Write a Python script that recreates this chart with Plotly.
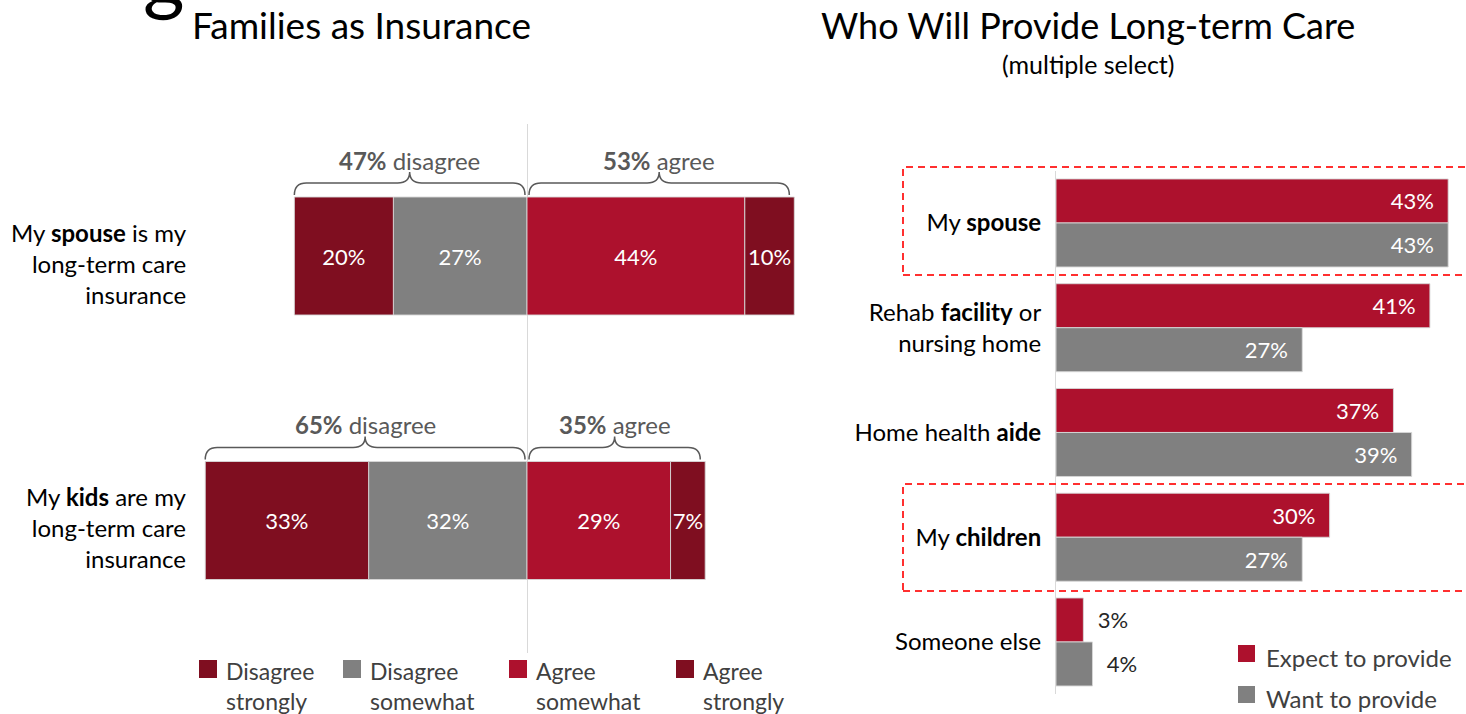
import plotly.graph_objects as go

# ---------------- data ----------------
statements = [
    "My <b>spouse</b> is my<br>long-term care<br>insurance",
    "My <b>kids</b> are my<br>long-term care<br>insurance",
]
disagree_strongly = [20, 33]
disagree_somewhat = [27, 32]
agree_somewhat = [44, 29]
agree_strongly = [10, 7]
disagree_total = [47, 65]
agree_total = [53, 35]

providers = [
    "My <b>spouse</b>",
    "Rehab <b>facility</b> or<br>nursing home",
    "Home health <b>aide</b>",
    "My <b>children</b>",
    "Someone else",
]
expect_to_provide = [43, 41, 37, 30, 3]
want_to_provide = [43, 27, 39, 27, 4]

left_legend = ["Disagree<br>strongly", "Disagree<br>somewhat", "Agree<br>somewhat", "Agree<br>strongly"]
right_legend = ["Expect to provide", "Want to provide"]

# ---------------- styling ----------------
FONT = "Lato"
DARK_RED = "#7F0E20"
RED = "#AD112D"
GREY = "#808080"
TXT = "#404040"
BRACE = "#595959"
LABEL_SIZE = 24
VALUE_SIZE = 22

W, H = 1466, 714


def fx(px):
    return px / W


def fy(py):
    return 1 - py / H


# left panel geometry (pixels)
L_ZERO, L_SCALE = 527, 4.95
L_X0, L_X1 = 200, 800
L_TOP, L_PITCH = 123.75, 264.5
L_BAR = 118

# right panel geometry (pixels)
R_ZERO, R_SCALE = 1056, 9.12
R_TOP, R_PITCH = 170.6, 104.75
R_BAR = 44


def lx(v):
    return L_ZERO + v * L_SCALE


def ly(i):
    return L_TOP + (i + 0.5) * L_PITCH


fig = go.Figure()

lw = L_BAR / L_PITCH
bar_line = dict(width=1, color="rgba(215,215,215,0.9)")


def pct(vals):
    return [f"{v}%" for v in vals]


left_series = [
    ("Disagree somewhat", [-v for v in disagree_somewhat], [0] * 2, GREY, disagree_somewhat),
    ("Disagree strongly", [-v for v in disagree_strongly], [-v for v in disagree_somewhat], DARK_RED, disagree_strongly),
    ("Agree somewhat", agree_somewhat, [0] * 2, RED, agree_somewhat),
    ("Agree strongly", agree_strongly, agree_somewhat, DARK_RED, agree_strongly),
]
for name, xs, base, col, lab in left_series:
    fig.add_trace(go.Bar(
        name=name, orientation="h", x=xs, y=statements, base=base,
        width=lw, offset=-lw / 2,
        marker=dict(color=col, line=bar_line),
        text=pct(lab), textposition="inside", insidetextanchor="middle",
        constraintext="none", textangle=0,
        textfont=dict(family=FONT, size=VALUE_SIZE, color="white"),
        xaxis="x", yaxis="y", showlegend=False, hoverinfo="skip",
    ))

rw = R_BAR / R_PITCH
nb = "\u00a0"
inside_pos = ["inside"] * 4 + ["outside"]
for name, vals, off, col in [
    ("Expect to provide", expect_to_provide, -rw, RED),
    ("Want to provide", want_to_provide, 0, GREY),
]:
    labels = [f"{v}%{nb * 2}" if p == "inside" else f"{nb * 2}{v}%" for v, p in zip(vals, inside_pos)]
    fig.add_trace(go.Bar(
        name=name, orientation="h", x=vals, y=providers,
        width=rw, offset=off,
        marker=dict(color=col, line=bar_line),
        text=labels, textposition=inside_pos, insidetextanchor="end",
        constraintext="none", textangle=0,
        textfont=dict(family=FONT, size=VALUE_SIZE, color=["white"] * 4 + ["#262626"]),
        xaxis="x2", yaxis="y2", showlegend=False, hoverinfo="skip",
    ))

shapes = []
annotations = []


# curly braces with totals above the diverging bars
def brace(x0, x1, y_end, y_mid, y_tip):
    xc = (x0 + x1) / 2
    r = 12
    pts = (
        f"M {fx(x0)},{fy(y_end)} Q {fx(x0)},{fy(y_mid)} {fx(x0 + r)},{fy(y_mid)} "
        f"L {fx(xc - r)},{fy(y_mid)} Q {fx(xc)},{fy(y_mid)} {fx(xc)},{fy(y_tip)} "
        f"Q {fx(xc)},{fy(y_mid)} {fx(xc + r)},{fy(y_mid)} "
        f"L {fx(x1 - r)},{fy(y_mid)} Q {fx(x1)},{fy(y_mid)} {fx(x1)},{fy(y_end)}"
    )
    return dict(type="path", xref="paper", yref="paper", path=pts,
                line=dict(color=BRACE, width=1.5))


for i, stmt in enumerate(statements):
    top = ly(i) - L_BAR / 2
    for x0, x1, txt in [
        (lx(-disagree_total[i]), lx(0) - 2, f"<b>{disagree_total[i]}%</b> disagree"),
        (lx(0) + 2, lx(agree_total[i]), f"<b>{agree_total[i]}%</b> agree"),
    ]:
        shapes.append(brace(x0, x1, top - 2, top - 14, top - 25))
        annotations.append(dict(
            x=fx((x0 + x1) / 2), y=fy(top - 37), xref="paper", yref="paper",
            text=txt, showarrow=False, xanchor="center", yanchor="middle",
            font=dict(family=FONT, size=LABEL_SIZE, color=BRACE),
        ))
    # statement label to the left of each bar
    annotations.append(dict(
        x=fx(189), y=fy(ly(i) + 7), xref="paper", yref="paper", text=stmt,
        showarrow=False, xanchor="right", yanchor="middle", align="right",
        font=dict(family=FONT, size=LABEL_SIZE, color="black"),
    ))

# dashed highlight boxes around spouse and children
for y0, y1 in [(167, 275), (484, 591)]:
    shapes.append(dict(type="rect", xref="paper", yref="paper",
                       x0=fx(903), x1=fx(1472), y0=fy(y1), y1=fy(y0),
                       line=dict(color="#FF3030", width=2, dash="7px,5px")))

# left legend
left_cols = [DARK_RED, GREY, RED, DARK_RED]
left_leg_x = [199, 343, 509, 676]
for lab, col, x in zip(left_legend, left_cols, left_leg_x):
    shapes.append(dict(type="rect", xref="paper", yref="paper",
                       x0=fx(x), x1=fx(x + 18), y0=fy(678), y1=fy(660),
                       fillcolor=col, line=dict(width=0)))
    annotations.append(dict(
        x=fx(x + 25), y=fy(655), xref="paper", yref="paper", text=lab,
        showarrow=False, xanchor="left", yanchor="top", align="left",
        font=dict(family=FONT, size=23, color=TXT),
    ))

# right legend
for lab, col, y in zip(right_legend, [RED, GREY], [645, 686]):
    shapes.append(dict(type="rect", xref="paper", yref="paper",
                       x0=fx(1238), x1=fx(1255), y0=fy(y + 17), y1=fy(y),
                       fillcolor=col, line=dict(width=0)))
    annotations.append(dict(
        x=fx(1264), y=fy(y + 12), xref="paper", yref="paper", text=lab,
        showarrow=False, xanchor="left", yanchor="middle",
        font=dict(family=FONT, size=LABEL_SIZE, color=TXT),
    ))

# titles
annotations += [
    dict(x=fx(361), y=fy(25), xref="paper", yref="paper", text="Families as Insurance",
         showarrow=False, xanchor="center", yanchor="middle",
         font=dict(family=FONT, size=37, color="black")),
    dict(x=fx(1088), y=fy(25), xref="paper", yref="paper", text="Who Will Provide Long-term Care",
         showarrow=False, xanchor="center", yanchor="middle",
         font=dict(family=FONT, size=36, color="black")),
    dict(x=fx(1088), y=fy(64), xref="paper", yref="paper", text="(multiple select)",
         showarrow=False, xanchor="center", yanchor="middle",
         font=dict(family=FONT, size=25, color="black")),
    dict(x=fx(164), y=fy(24), xref="paper", yref="paper", text="g",
         showarrow=False, xanchor="center", yanchor="bottom",
         font=dict(family=FONT, size=80, color="black")),
]

fig.update_layout(
    width=W, height=H,
    margin=dict(l=0, r=0, t=0, b=0),
    paper_bgcolor="white", plot_bgcolor="white",
    barmode="overlay",
    shapes=shapes, annotations=annotations,
    xaxis=dict(domain=[fx(L_X0), fx(L_X1)],
               range=[(L_X0 - L_ZERO) / L_SCALE, (L_X1 - L_ZERO) / L_SCALE],
               showgrid=False, showticklabels=False, ticks="",
               zeroline=True, zerolinecolor="#D9D9D9", zerolinewidth=1),
    yaxis=dict(domain=[fy(L_TOP + 2 * L_PITCH), fy(L_TOP)],
               type="category", categoryarray=statements, range=[1.5, -0.5],
               showgrid=False, zeroline=False, showline=False,
               showticklabels=False, ticks=""),
    xaxis2=dict(domain=[fx(R_ZERO), 1.0], range=[0, (W - R_ZERO) / R_SCALE],
                showgrid=False, showticklabels=False, ticks="", zeroline=False),
    yaxis2=dict(domain=[fy(R_TOP + 5 * R_PITCH), fy(R_TOP)], anchor="x2",
                type="category", categoryarray=providers, range=[4.5, -0.5],
                showgrid=False, zeroline=False,
                showline=True, linecolor="#D9D9D9", linewidth=1,
                ticks="outside", ticklen=9, tickcolor="rgba(0,0,0,0)",
                tickfont=dict(family=FONT, size=LABEL_SIZE, color="black")),
    font=dict(family=FONT),
)

fig.write_html("out.html")
